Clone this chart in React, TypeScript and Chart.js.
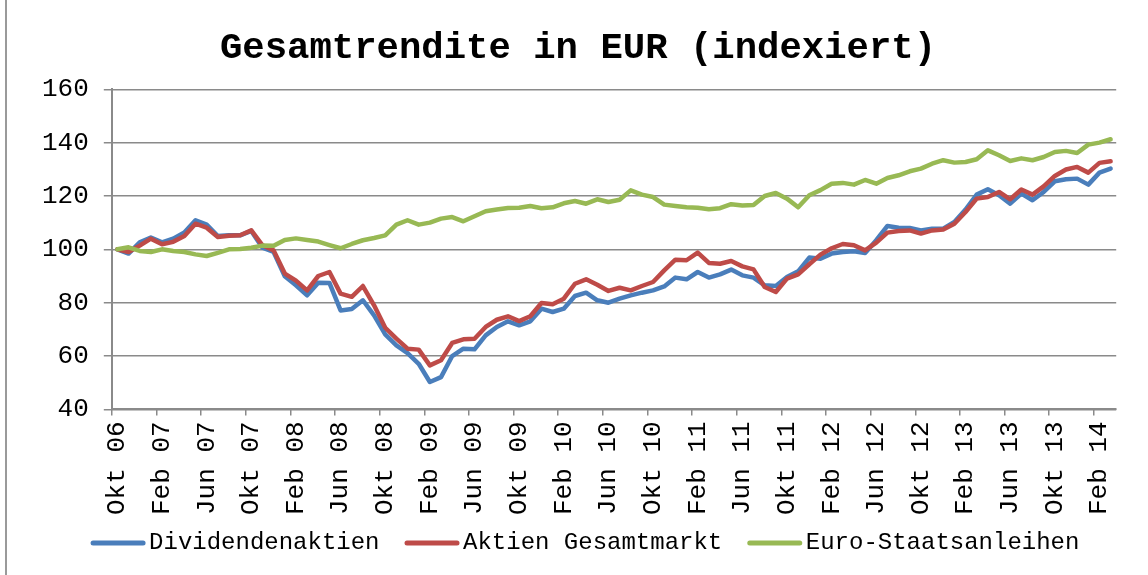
import React, { useEffect, useRef } from "react";
import { Chart, registerables } from "chart.js";

Chart.register(...registerables);

const FONT = "'Liberation Mono', 'Courier New', monospace";

const TITLE = "Gesamtrendite in EUR (indexiert)";
const MONTHS = ["Jan", "Feb", "Mär", "Apr", "Mai", "Jun", "Jul", "Aug", "Sep", "Okt", "Nov", "Dez"];
const START_MONTH = 9; // Okt
const START_YEAR = 2006;
const N_MONTHS = 90; // Okt 06 .. Mär 14

const CATEGORIES: string[] = Array.from({ length: N_MONTHS }, (_, i) => {
  const m = (START_MONTH + i) % 12;
  const y = START_YEAR + Math.floor((START_MONTH + i) / 12);
  return `${MONTHS[m]} ${String(y % 100).padStart(2, "0")}`;
});

const Y_TICKS = [40, 60, 80, 100, 120, 140, 160];

const DIVIDENDENAKTIEN = [
  100, 98.4, 102.6, 104.4, 102.6, 104, 106.3, 110.9, 109.25, 105,
  105.25, 105.25, 106.9, 100.6, 99, 89.9, 86.5, 82.75, 87.5, 87.4,
  77.1, 77.6, 80.9, 75.25, 68.1, 64, 61.1, 57.1, 50.25, 52.1,
  60, 62.75, 62.5, 67.75, 70.9, 73, 71.5, 73, 77.75, 76.5,
  77.75, 82.5, 83.75, 80.9, 80, 81.5, 82.75, 83.75, 84.6, 86.1,
  89.4, 88.75, 91.5, 89.4, 90.6, 92.4, 90.25, 89.4, 86.5, 86.25,
  89.6, 91.75, 96.9, 96.5, 98.4, 99, 99.25, 98.6, 103.4, 108.75,
  108.1, 108, 107.1, 107.75, 107.75, 110.25, 114.9, 120.5, 122.5, 120.25,
  117.1, 120.9, 118.4, 121.5, 125.5, 126.25, 126.5, 124.25, 128.75, 130.25,
];

const AKTIEN_GESAMTMARKT = [
  100, 99, 101.4, 104, 101.9, 102.8, 105, 109.6, 108.1, 104.6,
  105.1, 105.25, 107.1, 101.5, 99.6, 90.9, 88.25, 84.6, 90, 91.5,
  83.4, 82.2, 86.25, 79, 70.6, 66.5, 62.75, 62.4, 56.5, 58.4,
  64.9, 66.25, 66.5, 70.9, 73.6, 74.9, 73.1, 74.9, 79.9, 79.4,
  81.5, 87.1, 88.75, 86.7, 84.4, 85.6, 84.6, 86.25, 87.75, 92.1,
  96.1, 95.9, 98.75, 94.9, 94.6, 95.6, 93.6, 92.5, 85.9, 84,
  89, 90.6, 94.4, 98, 100.4, 102, 101.5, 99.6, 102.5, 106.25,
  106.9, 107.1, 105.9, 107.1, 107.4, 109.6, 114, 119, 119.6, 121.5,
  118.75, 122.4, 120.5, 123.6, 127.5, 129.9, 130.9, 128.75, 132.4, 133,
];

const EURO_STAATSANLEIHEN = [
  100, 100.75, 99.4, 99, 100, 99.4, 99, 98.1, 97.5, 98.7,
  100, 100.1, 100.6, 101.4, 101.3, 103.5, 104.1, 103.5, 102.9, 101.6,
  100.4, 102, 103.4, 104.25, 105.25, 109.25, 110.9, 109.25, 110, 111.5,
  112.1, 110.5, 112.4, 114.25, 114.9, 115.5, 115.6, 116.25, 115.4, 115.75,
  117.25, 118.1, 117.1, 118.75, 117.75, 118.6, 122.1, 120.5, 119.6, 116.75,
  116.25, 115.75, 115.6, 115, 115.4, 116.9, 116.4, 116.6, 120, 121.1,
  119, 115.75, 120.25, 122.2, 124.6, 124.9, 124.25, 126, 124.6, 126.75,
  127.75, 129.25, 130.25, 132.1, 133.4, 132.5, 132.75, 133.75, 137.1, 135.25,
  133.1, 134.1, 133.4, 134.6, 136.5, 136.9, 136.1, 139.25, 140, 141.25,
];

const SERIES = [
  { label: "Dividendenaktien", data: DIVIDENDENAKTIEN, color: "#4A7EBB", order: 3 },
  { label: "Aktien Gesamtmarkt", data: AKTIEN_GESAMTMARKT, color: "#BE4B48", order: 2 },
  { label: "Euro-Staatsanleihen", data: EURO_STAATSANLEIHEN, color: "#98B954", order: 1 },
];

const GRID = "#8a8a8a";

const legendPlugin = {
  id: "excelLegend",
  afterDraw(chart: any) {
    const ctx = chart.ctx as CanvasRenderingContext2D;
    ctx.save();
    ctx.font = `24px ${FONT}`;
    ctx.textBaseline = "middle";
    ctx.textAlign = "left";
    const lineLen = 55;
    const textOff = 58.5;
    const gapItem = 25;
    const widths = SERIES.map((s) => textOff + ctx.measureText(s.label).width);
    const total = widths.reduce((a, b) => a + b, 0) + gapItem * (SERIES.length - 1);
    let x = chart.width / 2 + 11 - total / 2;
    const y = 543;
    SERIES.forEach((s, i) => {
      ctx.strokeStyle = s.color;
      ctx.lineWidth = 5;
      ctx.lineCap = "round";
      ctx.beginPath();
      ctx.moveTo(x + 2.5, y);
      ctx.lineTo(x + lineLen - 2.5, y);
      ctx.stroke();
      ctx.fillStyle = "#000";
      ctx.fillText(s.label, x + textOff, y);
      x += widths[i] + gapItem;
    });
    ctx.restore();
  },
};

export default function App() {
  const ref = useRef<HTMLCanvasElement | null>(null);

  useEffect(() => {
    if (!ref.current) return;
    const chart = new Chart(ref.current, {
      type: "line",
      data: {
        labels: CATEGORIES,
        datasets: SERIES.map((s) => ({
          label: s.label,
          data: s.data,
          borderColor: s.color,
          backgroundColor: s.color,
          borderWidth: 4.5,
          borderCapStyle: "round",
          borderJoinStyle: "round",
          pointRadius: 0,
          tension: 0,
          fill: false,
          order: s.order,
        })),
      },
      options: {
        animation: false,
        responsive: false,
        layout: { padding: { left: 39, right: 31, top: 0, bottom: 54 } },
        plugins: {
          title: {
            display: true,
            text: TITLE,
            color: "#000",
            font: { family: FONT, size: 37.3, weight: "bold", lineHeight: 1.2 },
            padding: { top: 26, bottom: 18.5 },
          },
          legend: { display: false },
          tooltip: { enabled: false },
        },
        scales: {
          x: {
            offset: true,
            grid: {
              offset: true,
              drawOnChartArea: false,
              drawTicks: true,
              tickLength: 6,
              lineWidth: 1.5,
              color: (c: any) => (c.index % 4 === 0 ? GRID : "rgba(0,0,0,0)"),
              tickColor: (c: any) => (c.index % 4 === 0 ? GRID : "rgba(0,0,0,0)"),
            },
            border: { display: true, color: GRID, width: 2 },
            ticks: {
              autoSkip: false,
              minRotation: 90,
              maxRotation: 90,
              padding: 6,
              color: "#000",
              font: { family: FONT, size: 26 },
              callback: (_v: any, i: number) => (i % 4 === 0 ? CATEGORIES[i] : ""),
            },
          },
          y: {
            min: Y_TICKS[0],
            max: Y_TICKS[Y_TICKS.length - 1],
            afterBuildTicks: (axis: any) => {
              axis.ticks = Y_TICKS.map((v) => ({ value: v }));
            },
            afterFit: (axis: any) => {
              axis.width = axis.width - 12;
            },
            grid: { color: GRID, lineWidth: 1.5, tickLength: 8, drawTicks: true },
            border: { display: true, color: GRID, width: 2 },
            ticks: {
              padding: 15,
              color: "#000",
              font: { family: FONT, size: 26 },
            },
          },
        },
      },
      plugins: [legendPlugin],
    } as any);
    return () => chart.destroy();
  }, []);

  return (
    <div style={{ position: "absolute", left: 0, top: 0, width: 1148, height: 575, background: "#fff" }}>
      <div style={{ position: "absolute", left: 5, top: 0, width: 2, height: 575, background: "#9a9a9a" }} />
      <canvas ref={ref} width={1148} height={575} style={{ position: "absolute", left: 0, top: 0 }} />
    </div>
  );
}
